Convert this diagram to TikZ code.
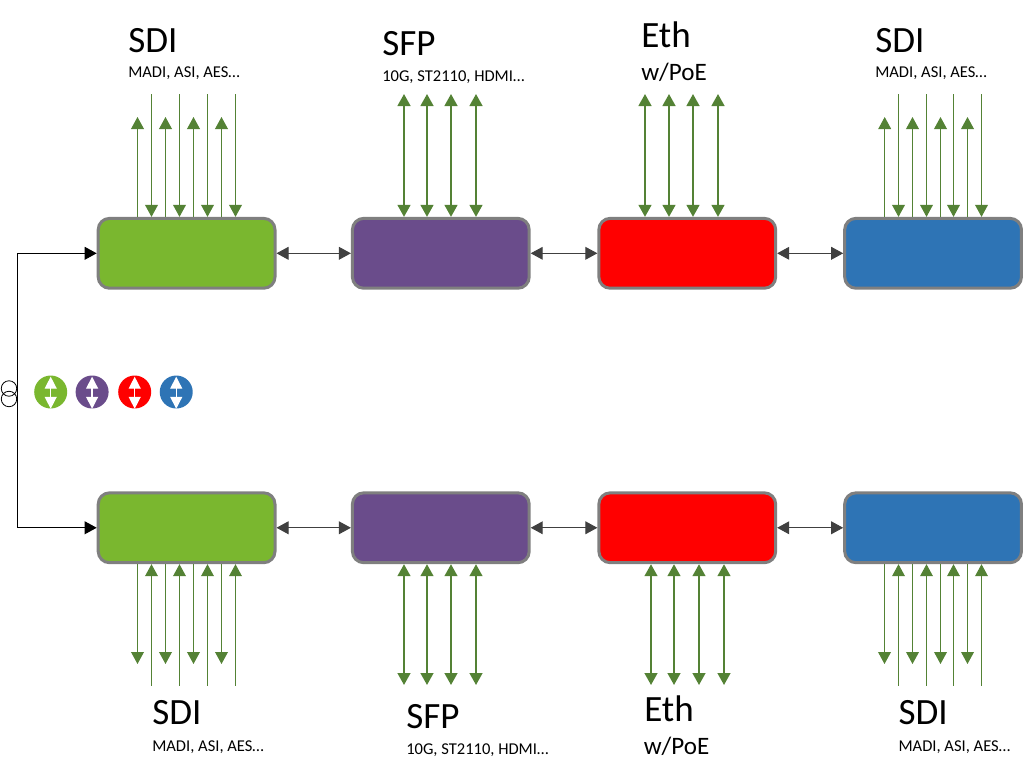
\documentclass[tikz,border=0pt]{standalone}
\usepackage{fontspec}
\setmainfont{Carlito}
\usepackage{xcolor}
\usetikzlibrary{positioning, arrows.meta}
\definecolor{cardGreen}{HTML}{7AB72F}
\definecolor{cardPurple}{HTML}{6A4C8B}
\definecolor{cardRed}{HTML}{FF0000}
\definecolor{cardBlue}{HTML}{2E74B5}
\definecolor{cardEdge}{HTML}{7F7F7F}
\definecolor{wireGreen}{HTML}{548235}
\definecolor{linkGray}{HTML}{404040}

\begin{document}
\begin{tikzpicture}[
		x=0.75pt,
		y=-0.75pt,
		card/.style={
			rectangle,
			rounded corners=8.5pt,
			draw=cardEdge,
			line width=2.25pt,
			minimum width=132.6pt,
			minimum height=52.4pt,
			inner sep=0pt
		},
		disc/.style={
			circle,
			minimum size=24.75pt,
			inner sep=0pt
		},
		ring/.style={
			circle,
			draw=black,
			line width=0.6pt,
			minimum size=11.6pt,
			inner sep=0pt
		},
		bigtext/.style={
			anchor=base west,
			inner sep=0pt,
			font=\fontsize{27.8}{27.8}\selectfont
		},
		midtext/.style={
			anchor=base west,
			inner sep=0pt,
			font=\fontsize{18.8}{18.8}\selectfont
		},
		smalltext/.style={
			anchor=base west,
			inner sep=0pt,
			font=\fontsize{12.4}{12.4}\selectfont
		},
		wireout/.style={
			-{Triangle[length=9pt,width=9.6pt]},
			line width=0.75pt,
			wireGreen
		},
		wirein/.style={
			{Triangle[length=9pt,width=9.6pt]}-,
			line width=0.75pt,
			wireGreen
		},
		wireboth/.style={
			{Triangle[length=9pt,width=9.6pt]}-{Triangle[length=9pt,width=9.6pt]},
			line width=1.5pt,
			wireGreen
		},
		cardlink/.style={
			{Triangle[length=9pt,width=9.6pt]}-{Triangle[length=9pt,width=9.6pt]},
			line width=0.75pt,
			linkGray
		},
		buslink/.style={
			{Triangle[length=9pt,width=9.6pt]}-{Triangle[length=9pt,width=9.6pt]},
			line width=0.75pt,
			black
		},
		discarrow/.style={
			{Triangle[length=9pt,width=9pt]}-{Triangle[length=9pt,width=9pt]},
			line width=1pt,
			white
		}
		]
		\useasboundingbox (0,0) rectangle (1034,778);
		% Cards
		\node[card, fill=cardGreen] (sdiTopL) at (186.6,253.3) {};
		\node[card, fill=cardPurple, right=55.8pt of sdiTopL] (sfpTop) {};
		\node[card, fill=cardRed, right=50pt of sfpTop] (ethTop) {};
		\node[card, fill=cardBlue, right=49.5pt of ethTop] (sdiTopR) {};
		\node[card, fill=cardGreen, below=151.2pt of sdiTopL] (sdiBotL) {};
		\node[card, fill=cardPurple, below=151.2pt of sfpTop] (sfpBot) {};
		\node[card, fill=cardRed, below=151.2pt of ethTop] (ethBot) {};
		\node[card, fill=cardBlue, below=151.2pt of sdiTopR] (sdiBotR) {};
		% Discs and rings
		\node[disc, fill=cardGreen] (discG) at (50.7,392) {};
		\node[disc, fill=cardPurple, right=5.9pt of discG] (discP) {};
		\node[disc, fill=cardRed, right=6.8pt of discP] (discR) {};
		\node[disc, fill=cardBlue, right=6pt of discR] (discB) {};
		\node[ring] (ringA) at (9,388.5) {};
		\node[ring] (ringB) at (9,399) {};
		% Links between cards
		\draw[cardlink] (sdiTopL) -- (sfpTop);
		\draw[cardlink] (sfpTop) -- (ethTop);
		\draw[cardlink] (ethTop) -- (sdiTopR);
		\draw[cardlink] (sdiBotL) -- (sfpBot);
		\draw[cardlink] (sfpBot) -- (ethBot);
		\draw[cardlink] (ethBot) -- (sdiBotR);
		% Bus on the left
		\coordinate (busTurn) at (17.5,390);
		\draw[buslink] (sdiTopL.west) -| (busTurn) |- (sdiBotL.west);
		% Wires with the tip away from the card
		\foreach \card/\y/\xs in {
			sdiTopL.north/117/{137.5,165.5,193.5,221.5},
			sdiTopR.north/117/{884.7,912.5,940.5,967.5},
			sdiBotL.south/664/{137.5,165.5,193.5,221.5},
			sdiBotR.south/664/{884.5,912.5,940.5,967.5}}{
			\foreach \x in \xs {
				\coordinate (free) at (\x,\y);
				\draw[wireout] (free |- \card) -- (free);
			}
		}
		% Wires with the tip on the card
		\foreach \card/\y/\xs in {
			sdiTopL.north/94/{151.5,179.5,207.5,235.5},
			sdiTopR.north/94/{898.5,926.5,953.5,981.5},
			sdiBotL.south/686/{151.5,179.5,207.5,235.5},
			sdiBotR.south/686/{898.5,926.5,953.5,981.5}}{
			\foreach \x in \xs {
				\coordinate (free) at (\x,\y);
				\draw[wirein] (free |- \card) -- (free);
			}
		}
		% Wires with two tips
		\foreach \card/\y/\xs in {
			sfpTop.north/94/{404,427,451,476},
			ethTop.north/94/{645,669,693,718},
			sfpBot.south/685/{404,427,451,476},
			ethBot.south/685/{651,674,699,724}}{
			\foreach \x in \xs {
				\coordinate (free) at (\x,\y);
				\draw[wireboth] (free |- \card) -- (free);
			}
		}
		% Arrows in the discs
		\foreach \d in {discG,discP,discR,discB}{
			\draw[discarrow] ([yshift=-1.1pt]\d.north) -- (\d.south);
		}
		% Labels
		\node[bigtext] (sdiTopLName) at (128,52) {SDI};
		\node[smalltext] (sdiTopLInfo) at (128,77.7) {MADI, ASI, AES\dots};
		\node[bigtext] (sfpTopName) at (382,55) {SFP};
		\node[smalltext] (sfpTopInfo) at (382,81.7) {10G, ST2110, HDMI\dots};
		\node[bigtext] (ethTopName) at (641,47) {Eth};
		\node[midtext] (ethTopInfo) at (641,80.7) {w/PoE};
		\node[bigtext] (sdiTopRName) at (875,52) {SDI};
		\node[smalltext] (sdiTopRInfo) at (875,77.7) {MADI, ASI, AES\dots};
		\node[bigtext] (sdiBotLName) at (152,724) {SDI};
		\node[smalltext] (sdiBotLInfo) at (152,751) {MADI, ASI, AES\dots};
		\node[bigtext] (sfpBotName) at (406,728) {SFP};
		\node[smalltext] (sfpBotInfo) at (406,754) {10G, ST2110, HDMI\dots};
		\node[bigtext] (ethBotName) at (644,721.7) {Eth};
		\node[midtext] (ethBotInfo) at (643.5,754) {w/PoE};
		\node[bigtext] (sdiBotRName) at (898.3,724) {SDI};
		\node[smalltext] (sdiBotRInfo) at (898.3,751) {MADI, ASI, AES\dots};
	\end{tikzpicture}
\end{document}
